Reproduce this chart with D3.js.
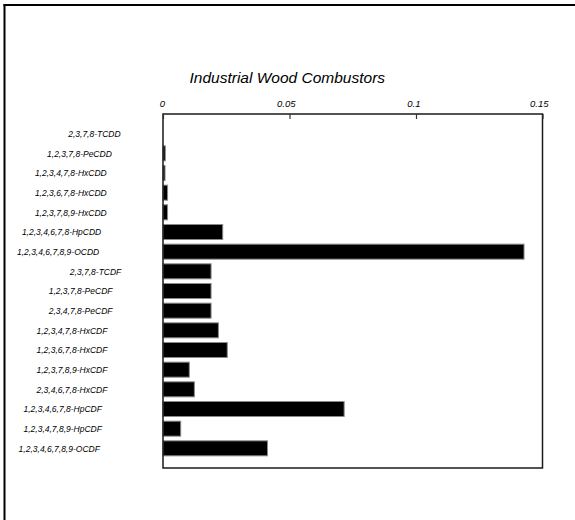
<!DOCTYPE html>
<html>
<head>
<meta charset="utf-8">
<script src="https://cdn.jsdelivr.net/npm/d3@7"></script>
<style>
  html, body { margin: 0; padding: 0; background: #fff; }
  svg { display: block; font-family: "Liberation Sans", Arial, sans-serif; }
</style>
</head>
<body>
<svg id="chart" width="575" height="520"></svg>
<script>
const categories = [
  "2,3,7,8-TCDD",
  "1,2,3,7,8-PeCDD",
  "1,2,3,4,7,8-HxCDD",
  "1,2,3,6,7,8-HxCDD",
  "1,2,3,7,8,9-HxCDD",
  "1,2,3,4,6,7,8-HpCDD",
  "1,2,3,4,6,7,8,9-OCDD",
  "2,3,7,8-TCDF",
  "1,2,3,7,8-PeCDF",
  "2,3,4,7,8-PeCDF",
  "1,2,3,4,7,8-HxCDF",
  "1,2,3,6,7,8-HxCDF",
  "1,2,3,7,8,9-HxCDF",
  "2,3,4,6,7,8-HxCDF",
  "1,2,3,4,6,7,8-HpCDF",
  "1,2,3,4,7,8,9-HpCDF",
  "1,2,3,4,6,7,8,9-OCDF"
];
const values = [
  0, 0.0009, 0.0008, 0.0018, 0.0018, 0.0236, 0.1427,
  0.019, 0.019, 0.019, 0.0219, 0.0254, 0.0104, 0.0124,
  0.0716, 0.007, 0.0413
];
const tickValues = [0, 0.05, 0.1, 0.15];
const tickLabels = ["0", "0.05", "0.1", "0.15"];
const title = "Industrial Wood Combustors";

const svg = d3.select("#chart");

// outer frame (top and left edges)
svg.append("line").attr("x1", 3.5).attr("x2", 575).attr("y1", 5).attr("y2", 5)
  .attr("stroke", "#000").attr("stroke-width", 2);
svg.append("line").attr("x1", 4.5).attr("x2", 4.5).attr("y1", 4).attr("y2", 520)
  .attr("stroke", "#000").attr("stroke-width", 2);

const plot = { left: 163, right: 542.5, top: 114, bottom: 468 };

const x = d3.scaleLinear().domain([0, 0.15]).range([plot.left, plot.right]);
const y = d3.scalePoint().domain(categories).range([plot.top, plot.bottom]).padding(1);
const barH = 15;

// bars
svg.append("g").selectAll("rect").data(categories).join("rect")
  .attr("x", x(0))
  .attr("y", d => y(d) - barH / 2)
  .attr("width", (d, i) => Math.max(0, x(values[i]) - x(0)))
  .attr("height", barH)
  .attr("fill", "#000")
  .attr("stroke", "#8a8a8a")
  .attr("stroke-width", 1);

// plot frame
svg.append("rect")
  .attr("x", plot.left).attr("y", plot.top)
  .attr("width", plot.right - plot.left).attr("height", plot.bottom - plot.top)
  .attr("fill", "none").attr("stroke", "#1a1a1a").attr("stroke-width", 1.5);

// top axis ticks
const axis = d3.axisTop(x).tickValues(tickValues).tickSize(-5)
  .tickFormat((d, i) => tickLabels[i]);
const ag = svg.append("g").attr("transform", `translate(0,${plot.top})`).call(axis);
ag.select(".domain").remove();
ag.selectAll(".tick line").attr("stroke", "#333").attr("stroke-width", 1.2);
ag.selectAll(".tick text")
  .attr("font-size", "9.5px")
  .attr("font-style", "italic")
  .attr("font-family", "'Liberation Sans', Arial, sans-serif")
  .attr("fill", "#000")
  .attr("y", -7.5)
  .attr("text-anchor", "start")
  .each(function () {
    const w = this.getComputedTextLength();
    d3.select(this).attr("x", -0.7 * w);
  });

// category labels
svg.append("g").selectAll("text").data(categories).join("text")
  .text(d => d)
  .attr("y", d => y(d) + 3.2)
  .attr("font-size", "8.5px")
  .attr("font-style", "italic")
  .attr("fill", "#000")
  .attr("text-anchor", "start")
  .each(function () {
    const w = this.getComputedTextLength();
    d3.select(this).attr("x", 158.4 - 1.72 * w);
  });

// title
svg.append("text")
  .text(title)
  .attr("x", 189.5)
  .attr("y", 82.5)
  .attr("font-size", "15.5px")
  .attr("font-style", "italic")
  .attr("fill", "#000");
</script>
</body>
</html>
